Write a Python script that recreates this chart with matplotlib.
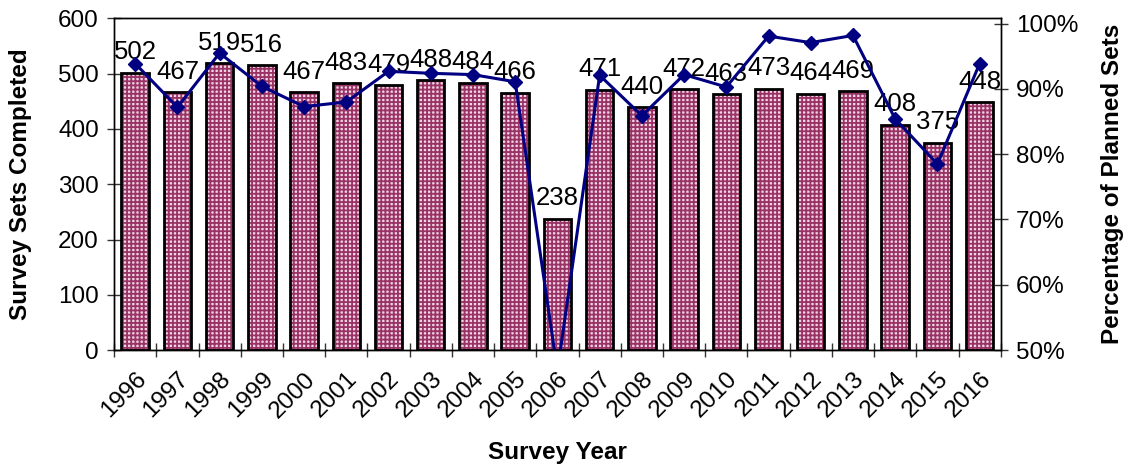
import numpy as np
import matplotlib
matplotlib.use('Agg')
import matplotlib.pyplot as plt
from matplotlib.ticker import PercentFormatter

plt.rcParams['font.family'] = ['Liberation Sans', 'DejaVu Sans']
plt.rcParams['hatch.linewidth'] = 1.3

# survey data
years = [str(y) for y in range(1996, 2017)]
sets_completed = [502, 467, 519, 516, 467, 483, 479, 488, 484, 466, 238,
                  471, 440, 472, 463, 473, 464, 469, 408, 375, 448]
pct_planned = [93.9, 87.2, 95.5, 90.4, 87.3, 88.0, 92.7, 92.4, 92.2, 91.1, 46.8,
               92.1, 85.9, 92.2, 90.3, 98.1, 97.1, 98.2, 85.4, 78.5, 93.9]

fs = 17.5
x = np.arange(len(years))

fig = plt.figure(figsize=(11.27, 4.69), dpi=100)
ax = fig.add_axes([0.1012, 0.2537, 0.7868, 0.7069])

# bars: hatched fill first, then a black outline on top
ax.bar(x, sets_completed, width=0.65, color='#f2d3e3', edgecolor='#993366',
       hatch='++++', linewidth=0, zorder=2)
ax.bar(x, sets_completed, width=0.65, color='none', edgecolor='black',
       linewidth=2, zorder=3)

for xi, v in zip(x, sets_completed):
    ax.annotate(str(v), (xi, v), xytext=(0, 6), textcoords='offset points',
                ha='center', va='bottom', fontsize=18.5, zorder=4)

ax.set_xlim(-0.5, len(years) - 0.5)
ax.set_ylim(0, 600)
ax.set_yticks(np.arange(0, 601, 100))

# year labels at bar centres, tick marks between categories
ax.set_xticks(x)
ax.set_xticklabels(years, rotation=45, ha='right', va='top',
                   rotation_mode='anchor', fontsize=fs)
ax.set_xticks(np.arange(-0.5, len(years), 1), minor=True)
ax.tick_params(axis='x', which='major', length=0, pad=13)
ax.tick_params(axis='x', which='minor', length=10, direction='inout',
               width=1, color='#333333')
ax.tick_params(axis='y', length=10, direction='inout', width=1,
               color='#333333', labelsize=fs, pad=6)

# percentage line on the second axis
ax2 = ax.twinx()
ax2.plot(x, np.array(pct_planned) / 100, color='#000080', linewidth=2.2,
         marker='D', markersize=7.5, zorder=5)
ax2.set_ylim(0.5, 1.008)
ax2.set_yticks(np.arange(0.5, 1.01, 0.1))
ax2.yaxis.set_major_formatter(PercentFormatter(1.0, decimals=0))
ax2.tick_params(axis='y', length=10, direction='inout', width=1,
                color='#333333', labelsize=fs, pad=6)

for a in (ax, ax2):
    for s in a.spines.values():
        s.set_linewidth(1)
        s.set_color('black')

fig.text(0.4943, 0.036, 'Survey Year', ha='center', va='center',
         fontsize=fs, fontweight='bold')
fig.text(0.018, 0.6075, 'Survey Sets Completed', ha='center', va='center',
         rotation=90, fontsize=fs, fontweight='bold')
fig.text(0.987, 0.6075, 'Percentage of Planned Sets', ha='center', va='center',
         rotation=90, fontsize=fs, fontweight='bold')

fig.savefig('out.png', dpi=100)
